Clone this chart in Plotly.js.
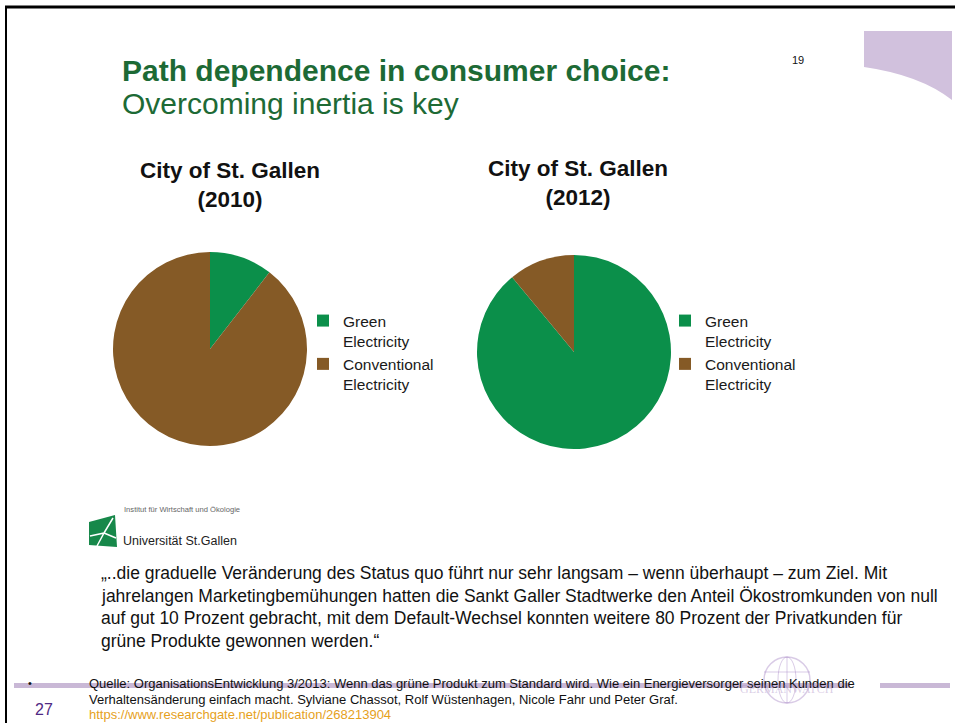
<!DOCTYPE html>
<html>
<head>
<meta charset="utf-8">
<script src="https://cdn.plot.ly/plotly-3.0.1.min.js"></script>
<style>html,body{margin:0;padding:0;background:#fff;}#chart{width:955px;height:723px;}</style>
</head>
<body>
<div id="chart"></div>
<script>
// ---- data ----
const sliceLabels = ["Green<br>Electricity", "Conventional<br>Electricity"];
const sliceColors = ["#0b8f4a", "#855a26"];
const share2010 = [10.5, 89.5];
const share2012 = [89, 11];
const chartTitles = ["City of St. Gallen<br>(2010)", "City of St. Gallen<br>(2012)"];
const slideTitle = "Path dependence in consumer choice:";
const slideSubtitle = "Overcoming inertia is key";
const quoteLines = [
  "„..die graduelle Veränderung des Status quo führt nur sehr langsam – wenn überhaupt – zum Ziel. Mit",
  "jahrelangen Marketingbemühungen hatten die Sankt Galler Stadtwerke den Anteil Ökostromkunden von null",
  "auf gut 10 Prozent gebracht, mit dem Default-Wechsel konnten weitere 80 Prozent der Privatkunden für",
  "grüne Produkte gewonnen werden.“"
];
const sourceLines = [
  "Quelle: OrganisationsEntwicklung 3/2013: Wenn das grüne Produkt zum Standard wird. Wie ein Energieversorger seinen Kunden die",
  "Verhaltensänderung einfach macht. Sylviane Chassot, Rolf Wüstenhagen, Nicole Fahr und Peter Graf."
];
const sourceLink = "https://www.researchgate.net/publication/268213904";

// ---- helpers ----
const W = 955, H = 723;
const px = x => x / W;
const py = y => 1 - y / H;
const FONT = "Liberation Sans, Arial, sans-serif";

function pie(values, labels, cx, cy, r, legendId) {
  return {
    type: "pie", values: values, labels: labels,
    marker: {colors: sliceColors, line: {width: 0}},
    sort: false, direction: "clockwise", rotation: 0,
    textinfo: "none", hoverinfo: "label+percent",
    domain: {x: [px(cx - r), px(cx + r)], y: [py(cy + r), py(cy - r)]},
    legend: legendId
  };
}

// second pie gets distinct label keys (zero-width space) so its own legend lists them too
const sliceLabels2 = sliceLabels.map(l => l + "\u200b");
const data = [
  pie(share2010, sliceLabels, 210, 349, 97, "legend"),
  pie(share2012, sliceLabels2, 574, 352, 97, "legend2")
];

const legendFont = {family: FONT, size: 15.5, color: "#1a1a1a"};
const ann = [];
function txt(text, x, y, size, opts) {
  ann.push(Object.assign({
    text: text, x: px(x), y: py(y), xref: "paper", yref: "paper",
    xanchor: "left", yanchor: "middle", showarrow: false,
    font: {family: FONT, size: size, color: "#111"}
  }, opts || {}));
}
txt("<b>" + slideTitle + "</b>", 120, 71, 30, {font: {family: FONT, size: 30, color: "#1d6a35"}});
txt(slideSubtitle, 120, 104, 30, {font: {family: FONT, size: 30, color: "#1d6a35"}});
txt("19", 790, 60, 11);
txt("<b>" + chartTitles[0] + "</b>", 230, 185, 22.5, {xanchor: "center"});
txt("<b>" + chartTitles[1] + "</b>", 578, 183, 22.5, {xanchor: "center"});
txt("Institut für Wirtschaft und Ökologie", 122, 509, 7.6, {font: {family: FONT, size: 7.6, color: "#666666"}});
txt("Universität St.Gallen", 121, 541, 12.5, {font: {family: FONT, size: 12.5, color: "#222"}});
quoteLines.forEach((l, i) => txt(l, 99, 573 + i * 22.7, 17.5));
txt("•", 26, 683, 11);
sourceLines.forEach((l, i) => txt(l, 87, 683 + i * 16, 13));
txt("<a href='" + sourceLink + "' style='fill:#e6a11c'>" + sourceLink + "</a>", 87, 714, 13, {font: {family: FONT, size: 13, color: "#e6a11c"}});
txt("27", 33, 709, 16, {font: {family: FONT, size: 16, color: "#4f2a84"}});
txt("GERMANWATCH", 787, 689, 12, {xanchor: "center", font: {family: "Liberation Serif, serif", size: 12, color: "rgba(160,130,190,0.4)"}});

const shapes = [
  // slide border
  {type: "line", xref: "paper", yref: "paper", x0: px(5), x1: 1, y0: py(7), y1: py(7), line: {color: "#000", width: 3}},
  {type: "line", xref: "paper", yref: "paper", x0: px(6), x1: px(6), y0: py(6), y1: 0, line: {color: "#000", width: 2}},
  // purple corner decoration
  {type: "path", xref: "paper", yref: "paper", fillcolor: "#d1c1dd", line: {width: 0},
   path: "M " + px(864) + " " + py(31) + " L " + px(952) + " " + py(31) + " L " + px(952) + " " + py(100) +
         " Q " + px(920) + " " + py(75) + " " + px(864) + " " + py(67) + " Z"},
  // footer bars
  {type: "rect", xref: "paper", yref: "paper", x0: px(14), x1: px(850), y0: py(688), y1: py(683), fillcolor: "#c9b8d6", line: {width: 0}, layer: "below"},
  {type: "rect", xref: "paper", yref: "paper", x0: px(880), x1: px(950), y0: py(688), y1: py(683), fillcolor: "#c9b8d6", line: {width: 0}, layer: "below"},
  // Germanwatch globe (faint)
  {type: "circle", xref: "paper", yref: "paper", x0: px(764), x1: px(810), y0: py(703), y1: py(657), line: {color: "rgba(170,140,200,0.45)", width: 1.5}, layer: "below"},
  {type: "circle", xref: "paper", yref: "paper", x0: px(778), x1: px(796), y0: py(703), y1: py(657), line: {color: "rgba(170,140,200,0.45)", width: 1}, layer: "below"},
  {type: "line", xref: "paper", yref: "paper", x0: px(764), x1: px(810), y0: py(672), y1: py(672), line: {color: "rgba(170,140,200,0.45)", width: 1}, layer: "below"},
  {type: "line", xref: "paper", yref: "paper", x0: px(787), x1: px(787), y0: py(657), y1: py(703), line: {color: "rgba(170,140,200,0.45)", width: 1}, layer: "below"},
  // HSG logo mark
  {type: "path", xref: "paper", yref: "paper", fillcolor: "#17884a", line: {width: 0},
   path: "M " + px(89) + " " + py(522) + " L " + px(115) + " " + py(515) + " L " + px(117) + " " + py(547) +
         " L " + px(89) + " " + py(545) + " Z"},
  {type: "path", xref: "paper", yref: "paper", line: {color: "#fff", width: 1.5},
   path: "M " + px(90) + " " + py(536) + " L " + px(104) + " " + py(533) + " L " + px(113) + " " + py(518) +
         " M " + px(104) + " " + py(533) + " L " + px(116) + " " + py(538) +
         " M " + px(104) + " " + py(533) + " L " + px(97) + " " + py(546)}
];

const layout = {
  width: W, height: H,
  margin: {l: 0, r: 0, t: 0, b: 0},
  paper_bgcolor: "#fff", plot_bgcolor: "#fff",
  showlegend: true,
  legend: {x: px(303), y: py(304), xanchor: "left", yanchor: "top", valign: "top", font: legendFont, bgcolor: "rgba(0,0,0,0)", itemclick: false},
  legend2: {x: px(665), y: py(304), xanchor: "left", yanchor: "top", valign: "top", font: legendFont, bgcolor: "rgba(0,0,0,0)", itemclick: false},
  annotations: ann,
  shapes: shapes
};

Plotly.newPlot("chart", data, layout, {displayModeBar: false, staticPlot: true});
</script>
</body>
</html>
